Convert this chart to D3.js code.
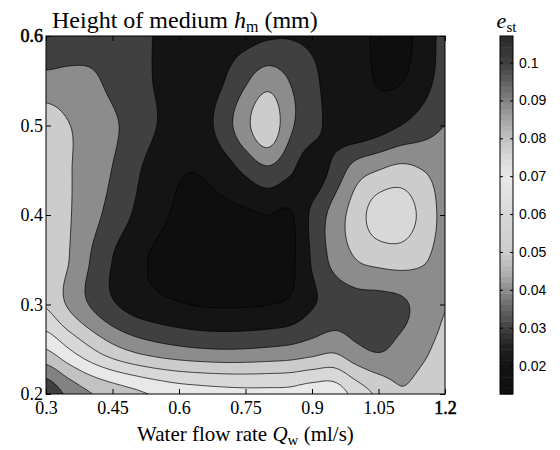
<!DOCTYPE html>
<html>
<head>
<meta charset="utf-8">
<script src="https://cdn.jsdelivr.net/npm/d3@7"></script>
<style>
  body { margin: 0; background: #fff; }
  svg text { font-family: "Liberation Serif", "Times New Roman", Times, "DejaVu Serif", serif; }
  svg .cbt text { font-family: "Liberation Sans", Arial, Helvetica, sans-serif; }
</style>
</head>
<body>
<div id="chart"></div>
<script>
// grid of e_st (rows: y from 0.6 down to 0.2)
var xGrid = [0.3, 0.35, 0.4, 0.45, 0.5, 0.55, 0.6, 0.65, 0.7, 0.75, 0.8, 0.85, 0.9, 0.95, 1.0, 1.05, 1.1, 1.15, 1.2];
var yGrid = [0.6, 0.55, 0.5, 0.45, 0.4, 0.35, 0.3, 0.25, 0.2];
var eGrid = [
  [.032, .0346, .0358, .0353, .0331, .0292, .0255, .0244, .0257, .027, .029, .0295, .028, .0244, .0235, .018, .0165, .024, .033],
  [.043, .043, .0418, .0376, .0334, .0292, .025, .0243, .0296, .0386, .046, .0397, .033, .0245, .023, .0195, .0195, .026, .034],
  [.056, .0505, .0459, .0415, .0362, .030, .0245, .0254, .035, .047, .058, .042, .034, .026, .022, .025, .030, .035, .040],
  [.057, .051, .0454, .0397, .0322, .025, .0208, .0206, .0249, .032, .038, .0317, .024, .033, .045, .050, .053, .050, .046],
  [.057, .051, .0438, .0363, .0289, .0226, .0185, .017, .0174, .0183, .020, .0189, .032, .044, .055, .065, .066, .057, .047],
  [.058, .0504, .0398, .0299, .0228, .0185, .016, .0146, .014, .0143, .0152, .0175, .031, .043, .050, .053, .054, .051, .047],
  [.059, .0488, .0393, .0313, .0258, .0229, .0208, .0193, .019, .0191, .0198, .0219, .029, .034, .036, .036, .038, .044, .0495],
  [.080, .0707, .0613, .0533, .0478, .0443, .042, .0406, .040, .0403, .0412, .0425, .0453, .048, .042, .039, .043, .048, .053],
  [.108, .0978, .0906, .0862, .0824, .0787, .076, .0746, .0736, .073, .073, .0733, .076, .076, .066, .058, .051, .054, .060]
];
var levels = [0.02, 0.03, 0.04, 0.05, 0.06, 0.07, 0.08, 0.09, 0.1];
var xTicks = [0.3, 0.45, 0.6, 0.75, 0.9, 1.05, 1.2];
var yTicks = [0.2, 0.3, 0.4, 0.5, 0.6];
var cbTicks = [0.02, 0.03, 0.04, 0.05, 0.06, 0.07, 0.08, 0.09, 0.1];
var cbRange = [0.0125, 0.107];

// grey colormap (dark - light - dark)
var mapVals = [0.0125, 0.02, 0.025, 0.03, 0.035, 0.04, 0.045, 0.05, 0.055, 0.06, 0.065, 0.07, 0.075, 0.08, 0.085, 0.09, 0.095, 0.1, 0.107];
var mapGray = [14, 20, 32, 64, 100, 140, 180, 204, 210, 216, 224, 232, 216, 194, 165, 130, 96, 64, 42];
var grayScale = d3.scaleLinear().domain(mapVals).range(mapGray).clamp(true);
function cmap(v) { var g = Math.round(grayScale(v)); return d3.rgb(g, g, g).toString(); }

var serif = '"Liberation Serif", "Times New Roman", Times, "DejaVu Serif", serif';
var sans = '"Liberation Sans", Arial, Helvetica, sans-serif';

var W = 560, H = 450;
var L = 46, R = 445, T = 36, B = 394;
var x = d3.scaleLinear().domain([0.3, 1.2]).range([L, R]);
var y = d3.scaleLinear().domain([0.2, 0.6]).range([B, T]);

var svg = d3.select("#chart").append("svg").attr("width", W).attr("height", H)
  .attr("font-family", serif);

// smooth the grid (Catmull-Rom) so the contours come out round
var sub = 10;
var nx = (xGrid.length - 1) * sub + 1, ny = (yGrid.length - 1) * sub + 1;
function cr(p0, p1, p2, p3, t) {
  return 0.5 * (2 * p1 + (-p0 + p2) * t + (2 * p0 - 5 * p1 + 4 * p2 - p3) * t * t + (-p0 + 3 * p1 - 3 * p2 + p3) * t * t * t);
}
function g(i, j) {
  i = Math.max(0, Math.min(xGrid.length - 1, i));
  j = Math.max(0, Math.min(yGrid.length - 1, j));
  return eGrid[j][i];
}
var values = new Array(nx * ny);
for (var j = 0; j < ny; j++) {
  var jj = Math.floor(j / sub), tj = (j - jj * sub) / sub;
  if (jj >= yGrid.length - 1) { jj = yGrid.length - 2; tj = 1; }
  for (var i = 0; i < nx; i++) {
    var ii = Math.floor(i / sub), ti = (i - ii * sub) / sub;
    if (ii >= xGrid.length - 1) { ii = xGrid.length - 2; ti = 1; }
    var col = [];
    for (var k = -1; k <= 2; k++) {
      col.push(cr(g(ii - 1, jj + k), g(ii, jj + k), g(ii + 1, jj + k), g(ii + 2, jj + k), ti));
    }
    values[j * nx + i] = cr(col[0], col[1], col[2], col[3], tj);
  }
}
var dxs = (xGrid[xGrid.length - 1] - xGrid[0]) / (nx - 1);
var dys = (yGrid[yGrid.length - 1] - yGrid[0]) / (ny - 1);
var proj = d3.geoTransform({
  point: function(px, py) {
    this.stream.point(x(xGrid[0] + (px - 0.5) * dxs), y(yGrid[0] + (py - 0.5) * dys));
  }
});
var path = d3.geoPath(proj);
var contours = d3.contours().size([nx, ny]).thresholds(levels)(values);

svg.append("clipPath").attr("id", "clip")
  .append("rect").attr("x", L).attr("y", T).attr("width", R - L).attr("height", B - T);

var plot = svg.append("g").attr("clip-path", "url(#clip)");
plot.append("rect").attr("x", L).attr("y", T).attr("width", R - L).attr("height", B - T)
  .attr("fill", cmap(cbRange[0]));
plot.selectAll("path.band").data(contours).enter().append("path")
  .attr("class", "band")
  .attr("d", path)
  .attr("fill", function(d) { return cmap(d.value); })
  .attr("stroke", "#000")
  .attr("stroke-width", 0.7);

// frame and inward ticks
svg.append("rect").attr("x", L).attr("y", T).attr("width", R - L).attr("height", B - T)
  .attr("fill", "none").attr("stroke", "#000").attr("stroke-width", 1);

var ax = svg.append("g").attr("transform", "translate(0," + B + ")")
  .call(d3.axisBottom(x).tickValues(xTicks).tickSize(-5).tickPadding(7).tickFormat(function(d) { return d; }));
svg.append("g").attr("transform", "translate(0," + T + ")")
  .call(d3.axisTop(x).tickValues(xTicks).tickSize(-5).tickFormat(""));
var ay = svg.append("g").attr("transform", "translate(" + L + ",0)")
  .call(d3.axisLeft(y).tickValues(yTicks).tickSize(-5).tickPadding(3).tickFormat(function(d) { return d; }));
svg.append("g").attr("transform", "translate(" + R + ",0)")
  .call(d3.axisRight(y).tickValues(yTicks).tickSize(-5).tickFormat(""));
svg.selectAll(".domain").remove();
svg.selectAll(".tick line").attr("stroke", "#000");
[ax, ay].forEach(function(a) {
  a.attr("font-family", serif).attr("font-size", 18);
  a.selectAll("text").attr("font-family", serif).style("font-size", "18px").attr("fill", "#000");
});
ay.selectAll(".tick").filter(function(d) { return d === 0.6; }).select("text").attr("stroke", "#000").attr("stroke-width", 0.6);
ax.selectAll(".tick").filter(function(d) { return d === 1.2; }).select("text").attr("stroke", "#000").attr("stroke-width", 0.6);

// title and x label
var title = svg.append("text").attr("x", 52).attr("y", 28)
  .attr("font-family", serif).style("font-size", "24px");
title.append("tspan").text("Height of medium ");
title.append("tspan").style("font-style", "italic").text("h");
title.append("tspan").attr("dy", 4).style("font-size", "16px").text("m");
title.append("tspan").attr("dy", -4).text(" (mm)");

var xl = svg.append("text").attr("x", (L + R) / 2).attr("y", 441).attr("text-anchor", "middle")
  .attr("font-family", serif).style("font-size", "21px");
xl.append("tspan").text("Water flow rate ");
xl.append("tspan").style("font-style", "italic").text("Q");
xl.append("tspan").attr("dy", 4).style("font-size", "15px").text("w");
xl.append("tspan").attr("dy", -4).text(" (ml/s)");

// colorbar
var cbX = 500, cbW = 13;
var cy = d3.scaleLinear().domain(cbRange).range([B, T]);
var cb = svg.append("g");
var nSteps = 64;
var steps = d3.range(nSteps).map(function(k) { return cbRange[0] + (k + 0.5) * (cbRange[1] - cbRange[0]) / nSteps; });
var stepH = (B - T) / nSteps;
cb.selectAll("rect.c").data(steps).enter().append("rect")
  .attr("class", "c")
  .attr("x", cbX).attr("width", cbW)
  .attr("y", function(d) { return cy(d) - stepH / 2; })
  .attr("height", stepH + 0.5)
  .attr("fill", function(d) { return cmap(d); });
cb.append("rect").attr("x", cbX).attr("y", T).attr("width", cbW).attr("height", B - T)
  .attr("fill", "none").attr("stroke", "#000").attr("stroke-width", 1);
var cba = cb.append("g").attr("class", "cbt").attr("transform", "translate(" + (cbX + cbW) + ",0)")
  .call(d3.axisRight(cy).tickValues(cbTicks).tickSize(-3).tickPadding(6).tickFormat(function(d) { return d; }));
cb.append("g").attr("transform", "translate(" + cbX + ",0)")
  .call(d3.axisLeft(cy).tickValues(cbTicks).tickSize(-3).tickFormat(""));
cb.selectAll(".domain").remove();
cb.selectAll(".tick line").attr("stroke", "#000");
cba.attr("font-family", sans);
cba.selectAll("text").attr("font-family", sans).style("font-size", "14px").attr("fill", "#000");

var cl = svg.append("text").attr("x", cbX + cbW / 2).attr("y", 28).attr("text-anchor", "middle")
  .attr("font-family", serif).style("font-size", "22px");
cl.append("tspan").style("font-style", "italic").text("e");
cl.append("tspan").attr("dy", 4).style("font-size", "15px").text("st");
</script>
</body>
</html>
